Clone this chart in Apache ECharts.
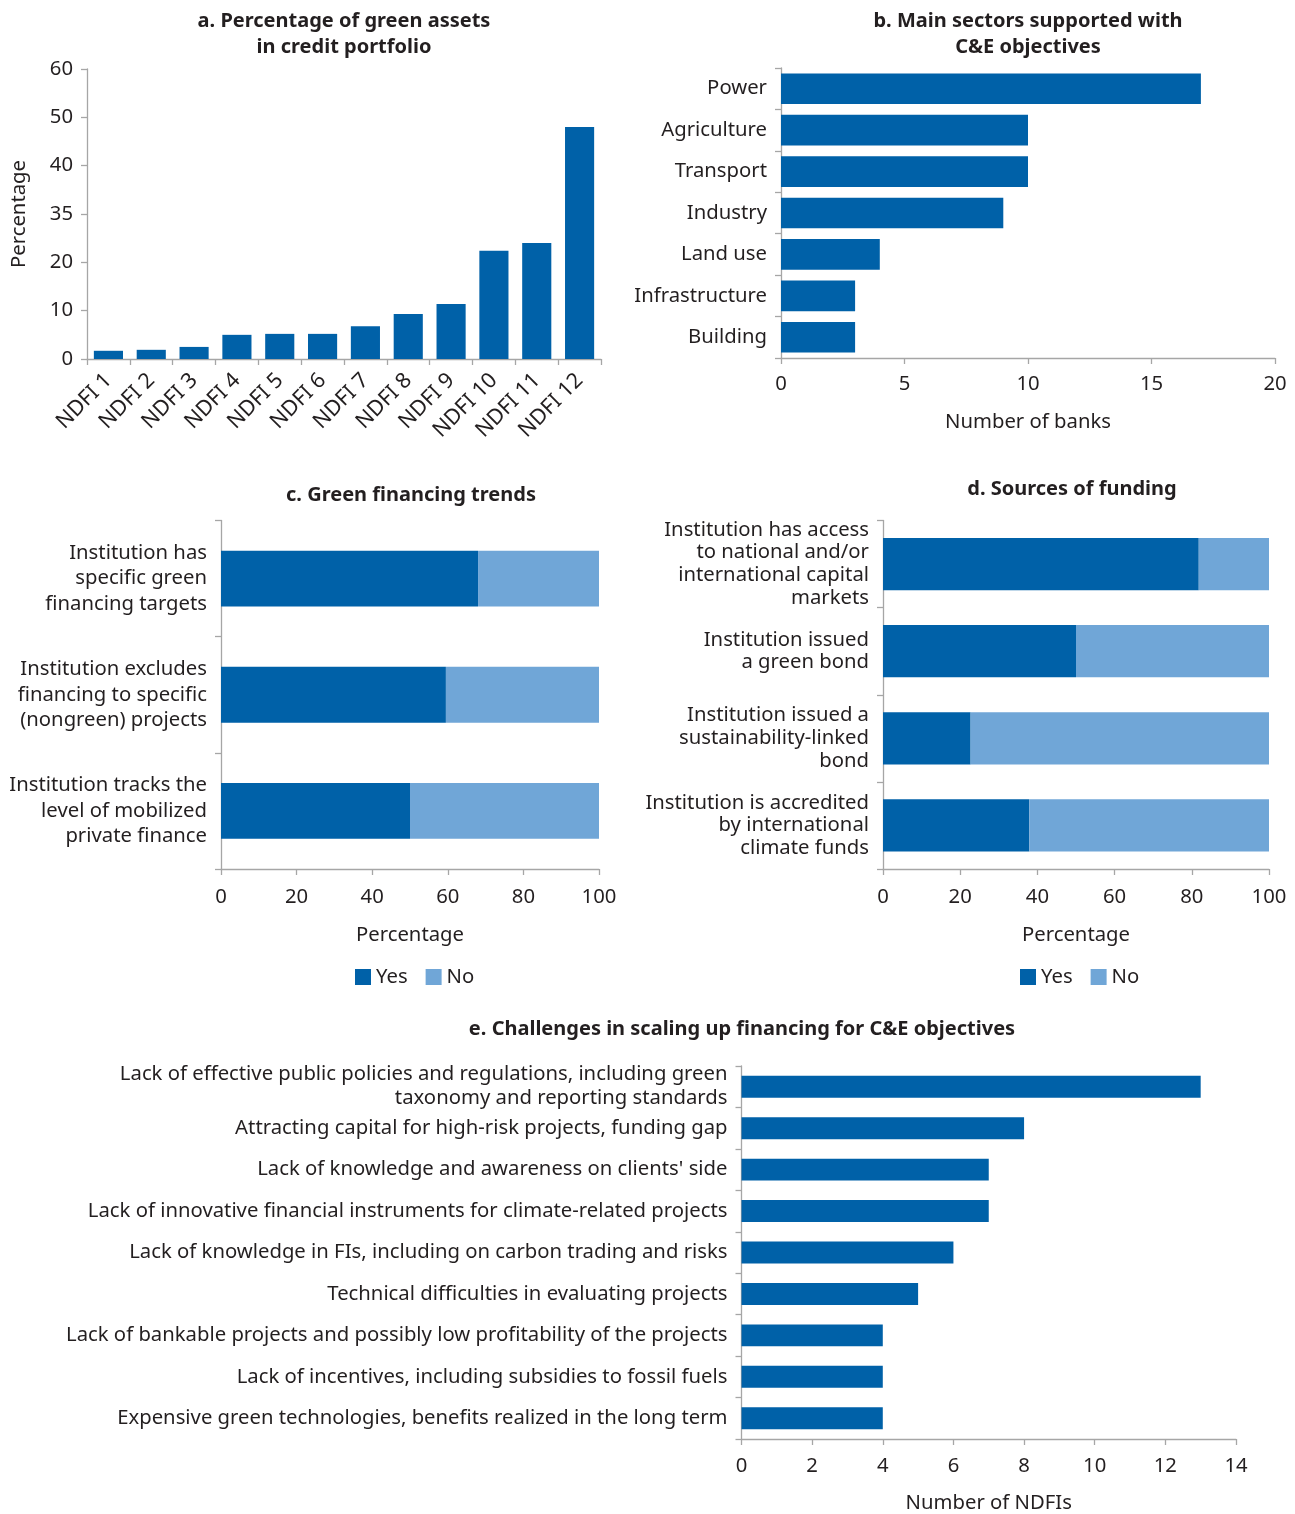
<!DOCTYPE html>
<html><head><meta charset="utf-8">
<script src="https://cdn.jsdelivr.net/npm/echarts@6/dist/echarts.min.js"></script>
<style>html,body{margin:0;padding:0;background:#fff}#c{width:1295px;height:1514px}</style>
</head><body><div id="c"></div>
<script>
// ---- Data ----
const aCategories = ['NDFI 1','NDFI 2','NDFI 3','NDFI 4','NDFI 5','NDFI 6','NDFI 7','NDFI 8','NDFI 9','NDFI 10','NDFI 11','NDFI 12'];
const aValues = [1.7, 1.9, 2.5, 5.0, 5.2, 5.2, 6.8, 9.3, 11.4, 22.4, 24.0, 48.0];
const aTickLabels = ['0','10','20','35','40','50','60'];

const bCategories = ['Power','Agriculture','Transport','Industry','Land use','Infrastructure','Building'];
const bValues = [17, 10, 10, 9, 4, 3, 3];

const cCategories = [
  'Institution has\nspecific green\nfinancing targets',
  'Institution excludes\nfinancing to specific\n(nongreen) projects',
  'Institution tracks the\nlevel of mobilized\nprivate finance'
];
const cYes = [68, 59.5, 50];
const cNo = [32, 40.5, 50];

const dCategories = [
  'Institution has access\nto national and/or\ninternational capital\nmarkets',
  'Institution issued\na green bond',
  'Institution issued a\nsustainability-linked\nbond',
  'Institution is accredited\nby international\nclimate funds'
];
const dYes = [81.8, 50, 22.7, 37.9];
const dNo = [18.2, 50, 77.3, 62.1];

const eCategories = [
  'Lack of effective public policies and regulations, including green\ntaxonomy and reporting standards',
  'Attracting capital for high-risk projects, funding gap',
  "Lack of knowledge and awareness on clients' side",
  'Lack of innovative financial instruments for climate-related projects',
  'Lack of knowledge in FIs, including on carbon trading and risks',
  'Technical difficulties in evaluating projects',
  'Lack of bankable projects and possibly low profitability of the projects',
  'Lack of incentives, including subsidies to fossil fuels',
  'Expensive green technologies, benefits realized in the long term'
];
const eValues = [13, 8, 7, 7, 6, 5, 4, 4, 4];

// ---- Styles ----
const FONT = 'Noto Sans';
const TXT = '#231f20';
const AXC = '#a6a6a6';
const DARK = '#0061a8';
const LIGHT = '#70a6d7';
const FS = 20.3;

const axisLine = {show:true, lineStyle:{color:AXC, width:1.3}};
const axisTick = {show:true, length:6, lineStyle:{color:AXC, width:1.3}};
const lbl = (extra) => Object.assign({color:TXT, fontFamily:FONT, fontSize:FS}, extra||{});
const nameStyle = {color:TXT, fontFamily:FONT, fontSize:FS};

function title(text, x, y){
  return {text, left:x, top:y, textAlign:'center', padding:0,
    textStyle:{fontFamily:FONT, fontWeight:'bold', fontSize:20, color:TXT, lineHeight:26}};
}

const option = {
  animation:false,
  backgroundColor:'#fff',
  textStyle:{fontFamily:FONT},
  title:[
    title('a. Percentage of green assets\nin credit portfolio', 344, 8),
    title('b. Main sectors supported with\nC&E objectives', 1028, 8),
    title('c. Green financing trends', 411, 482),
    title('d. Sources of funding', 1072, 476),
    title('e. Challenges in scaling up financing for C&E objectives', 742, 1016)
  ],
  legend:[
    {data:['Yes','No'], left:350, top:962, itemWidth:16, itemHeight:16, itemGap:18, icon:'rect',
     textStyle:lbl({padding:[0,0,0,0]})},
    {data:['Yes','No'], left:1015, top:962, itemWidth:16, itemHeight:16, itemGap:18, icon:'rect',
     textStyle:lbl({padding:[0,0,0,0]})}
  ],
  grid:[
    {left:87, top:69, width:514, height:290},
    {left:781, top:68, width:494, height:290},
    {left:221, top:520.5, width:378, height:348.5},
    {left:883, top:520.5, width:386, height:348.5},
    {left:741.5, top:1066, width:494.5, height:373}
  ],
  xAxis:[
    {gridIndex:0, type:'category', data:aCategories, boundaryGap:true,
     axisLine, axisTick:Object.assign({alignWithLabel:false}, axisTick),
     axisLabel:lbl({rotate:45, margin:18, interval:0, fontSize:21.5})},
    {gridIndex:1, type:'value', min:0, max:20, interval:5, splitLine:{show:false},
     axisLine, axisTick, axisLabel:lbl({margin:16}),
     name:'Number of banks', nameLocation:'middle', nameGap:54, nameTextStyle:nameStyle},
    {gridIndex:2, type:'value', min:0, max:100, interval:20, splitLine:{show:false},
     axisLine, axisTick, axisLabel:lbl({margin:18}),
     name:'Percentage', nameLocation:'middle', nameGap:56, nameTextStyle:nameStyle},
    {gridIndex:3, type:'value', min:0, max:100, interval:20, splitLine:{show:false},
     axisLine, axisTick, axisLabel:lbl({margin:18}),
     name:'Percentage', nameLocation:'middle', nameGap:56, nameTextStyle:nameStyle},
    {gridIndex:4, type:'value', min:0, max:14, interval:2, splitLine:{show:false},
     axisLine, axisTick, axisLabel:lbl({margin:17}),
     name:'Number of NDFIs', nameLocation:'middle', nameGap:54, nameTextStyle:nameStyle}
  ],
  yAxis:[
    {gridIndex:0, type:'value', min:0, max:60, interval:10, splitLine:{show:false},
     axisLine, axisTick,
     axisLabel:lbl({margin:14, formatter:(v)=>aTickLabels[Math.round(v/10)]}),
     name:'Percentage', nameLocation:'middle', nameGap:58, nameTextStyle:nameStyle},
    {gridIndex:1, type:'category', data:bCategories, inverse:true,
     axisLine, axisTick, axisLabel:lbl({margin:14, interval:0})},
    {gridIndex:2, type:'category', data:cCategories, inverse:true,
     axisLine, axisTick, axisLabel:lbl({margin:14, interval:0, align:'right', lineHeight:25.5})},
    {gridIndex:3, type:'category', data:dCategories, inverse:true,
     axisLine, axisTick, axisLabel:lbl({margin:14, interval:0, align:'right', lineHeight:22.7})},
    {gridIndex:4, type:'category', data:eCategories, inverse:true,
     axisLine, axisTick, axisLabel:lbl({margin:14, interval:0, align:'right', lineHeight:24})}
  ],
  series:[
    {type:'bar', name:'a', xAxisIndex:0, yAxisIndex:0, data:aValues, barWidth:'68%', itemStyle:{color:DARK}},
    {type:'bar', name:'b', xAxisIndex:1, yAxisIndex:1, data:bValues, barWidth:'74%', itemStyle:{color:DARK}},
    {type:'bar', name:'Yes', xAxisIndex:2, yAxisIndex:2, data:cYes, stack:'c', barWidth:'48%', itemStyle:{color:DARK}},
    {type:'bar', name:'No', xAxisIndex:2, yAxisIndex:2, data:cNo, stack:'c', barWidth:'48%', itemStyle:{color:LIGHT}},
    {type:'bar', name:'Yes', xAxisIndex:3, yAxisIndex:3, data:dYes, stack:'d', barWidth:'60%', itemStyle:{color:DARK}},
    {type:'bar', name:'No', xAxisIndex:3, yAxisIndex:3, data:dNo, stack:'d', barWidth:'60%', itemStyle:{color:LIGHT}},
    {type:'bar', name:'e', xAxisIndex:4, yAxisIndex:4, data:eValues, barWidth:'53%', itemStyle:{color:DARK}}
  ]
};
const chart = echarts.init(document.getElementById('c'), null, {renderer:'canvas'});
chart.setOption(option);
</script>
</body></html>
